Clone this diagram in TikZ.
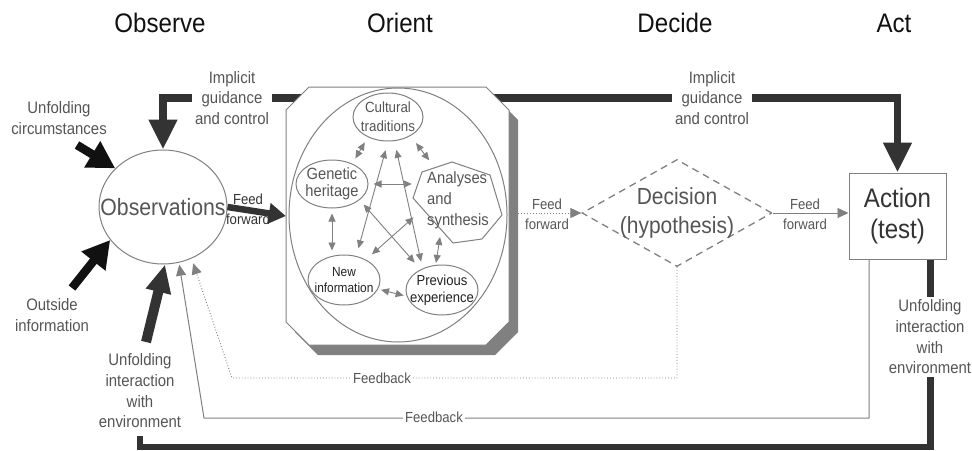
\documentclass[tikz,border=0pt]{standalone}
\usepackage{fontspec}
\setmainfont{Liberation Sans}[FakeStretch=0.9]
\usetikzlibrary{arrows.meta,shapes.geometric,calc}

\definecolor{outl}{HTML}{808080}
\definecolor{dark}{HTML}{333333}
\definecolor{ink}{HTML}{111111}
\definecolor{txt}{HTML}{555555}
\definecolor{txtd}{HTML}{222222}

\newcommand\fsz[2]{\fontsize{#1}{#2}\selectfont}
% octagonal outline of the orient box
\newcommand\orientoutline{(309,87) -- (486,87) -- (509,110) -- (509,322) -- (486,345)
  -- (309,345) -- (286,322) -- (286,110) -- cycle}

\begin{document}
\begin{tikzpicture}[x=1pt,y=-1pt,line join=miter,
  heading/.style={text=ink,font=\fsz{26.8}{30},inner sep=0pt},
  lbl/.style={text=txt,font=\fsz{16.6}{20.7},align=center,inner sep=1pt},
  lblw/.style={lbl,fill=white,inner sep=3pt},
  ffwd/.style={text=txt,font=\fsz{14.6}{20},align=center,inner sep=0pt},
  fback/.style={text=txt,font=\fsz{14.6}{18},fill=white,inner sep=2pt},
  oval/.style={ellipse,draw=outl,line width=1pt,inner sep=0pt},
  biarrow/.style={draw=outl,line width=0.9pt,
    {Triangle[length=8pt,width=7pt]}-{Triangle[length=8pt,width=7pt]}},
  bigline/.style={draw=dark,line width=7.5pt},
  botline/.style={draw=dark,line width=6.5pt},
  inarrow/.style={draw=ink,line width=8.5pt,-{Triangle[length=27pt,width=29pt]}},
  envarrow/.style={draw=dark,line width=10pt,-{Triangle[length=28pt,width=24pt]}},
]
\useasboundingbox (0,0) rectangle (972,450);

% column headings
\node[heading] at (160,23) {Observe};
\node[heading] at (400,23) {Orient};
\node[heading] at (675,23) {Decide};
\node[heading] at (894,23) {Act};

% main shapes
\node[ellipse,draw=outl,line width=1pt,minimum width=128pt,minimum height=114pt,inner sep=0pt,
      label={[text=txt,font=\fsz{23.6}{26}]center:Observations}] (obs) at (163,207) {};
\node[diamond,draw=outl,dashed,dash pattern=on 7pt off 5pt,line width=1.3pt,
      minimum width=190pt,minimum height=107pt,inner sep=0pt,
      label={[text=txt,font=\fsz{23.3}{29},align=center]center:Decision\\(hypothesis)}] (dec) at (677,213) {};
\node[rectangle,draw=outl,line width=1pt,minimum width=97pt,minimum height=86pt,inner sep=0pt,
      text=dark,font=\fsz{26.8}{31},align=center] (act) at (897.5,216) {Action\\(test)};

% implicit guidance and control (behind the orient box)
\draw[bigline,{Triangle[length=30pt,width=27pt]}-{Triangle[length=30pt,width=27pt]}]
  (obs.north) |- (act.north |- 0,98) -- (act.north);
\node[lblw] at (232,98) {Implicit\\guidance\\and control};
\node[lblw] at (712,98) {Implicit\\guidance\\and control};

% orient box with its shadow
\node[rectangle,minimum width=223pt,minimum height=258pt,inner sep=0pt] (orientbox) at (397.5,216) {};
\fill[outl,shift={(9,10)}] \orientoutline;
\filldraw[draw=outl,fill=white,line width=1pt] \orientoutline;
\node[oval,minimum width=218pt,minimum height=254pt] (inner) at (398,215) {};

\node[oval,minimum width=70pt,minimum height=48pt,
      label={[text=txt,font=\fsz{14.8}{19},align=center]center:Cultural\\traditions}] (cult) at (388,117) {};
\node[oval,minimum width=72pt,minimum height=48pt,
      label={[text=txt,font=\fsz{16.3}{17.5},align=center]center:Genetic\\heritage}] (gen) at (332,184) {};
% irregular seven-sided outline around "Analyses and synthesis"
\node[circle,minimum size=90pt,inner sep=0pt] (ana) at (458,205) {};
\draw[draw=outl,line width=1pt,shift={(ana.center)}]
  (-36,-33) -- (-6,-43) -- (32,-30) -- (44,10) -- (24,34) -- (-5,38) -- (-45,-7) -- cycle;
\node[text=txt,font=\fsz{16.4}{21},align=left,inner sep=0pt] (anatext) at (458,200) {Analyses\\and\\synthesis};
\node[oval,minimum width=72pt,minimum height=50pt,
      label={[text=txtd,font=\fsz{13.2}{16.5},align=center]center:New\\information}] (newi) at (344,280) {};
\node[oval,minimum width=72pt,minimum height=50pt,
      label={[text=txtd,font=\fsz{14.5}{17.5},align=center]center:Previous\\experience}] (prev) at (442,290) {};

% links inside the orient box
\draw[biarrow,shorten <=6pt,shorten >=6pt] (cult.225) -- (gen.45);
\draw[biarrow,shorten <=9pt,shorten >=8pt] (cult.-40) -- (ana.122);
\draw[biarrow,shorten <=5pt,shorten >=1pt] (gen.east) -- (gen.east -| ana.west);
\draw[biarrow,shorten <=5pt,shorten >=4pt] (gen.south) -- (gen.south |- newi.north);
\draw[biarrow,shorten <=3pt,shorten >=3pt] (newi.-15) -- (prev.190);
\draw[biarrow,shorten >=2pt] ([shift={(-18,32)}]ana.center) -- (prev.104);
\draw[biarrow,shorten <=9pt,shorten >=8pt] (cult.south) -- (newi.63);
\draw[biarrow,shorten <=9pt,shorten >=7pt] (cult.-75) -- (prev.132);
\draw[biarrow,shorten <=6pt,shorten >=9pt] (gen.-30) -- (prev.136);
\draw[biarrow,shorten <=1pt,shorten >=8pt] (ana.195) -- (newi.43);

% feed forward
\draw[draw=dark,line width=6.5pt,-{Triangle[length=17pt,width=20pt]}] (obs.east) -- (orientbox.west);
\node[ffwd,text=dark] at (248,209) {Feed\\forward};
\draw[draw=outl,line width=0.9pt,dotted,-{Triangle[length=11pt,width=10pt]}]
  ([xshift=9pt]orientbox.east |- dec.west) -- (dec.west);
\node[ffwd] at (547,214) {Feed\\forward};
\draw[draw=outl,line width=0.9pt,-{Triangle[length=11pt,width=10pt]}] (dec.east) -- (dec.east -| act.west);
\node[ffwd] at (805,214) {Feed\\forward};

% feedback
\draw[draw=outl,line width=0.9pt,dotted,-{Triangle[length=11pt,width=10pt]},shorten >=5pt]
  (dec.south) |- (232,378) -- (obs.-61);
\node[fback] at (382,378) {Feedback};
\draw[draw=outl,line width=1pt,-{Triangle[length=11pt,width=10pt]},shorten >=2pt]
  ([xshift=-28.5pt]act.south) |- (204,418) -- (obs.-74);
\node[fback] at (434,417) {Feedback};

% unfolding interaction with environment
\draw[botline] ([xshift=-16pt]act.south east) |- (140,447) -- (140,436);
\node[lblw] at (930,337) {Unfolding\\interaction\\with\\environment};
\node[lblw] at (140,391) {Unfolding\\interaction\\with\\environment};
\coordinate (envtail) at (146,342);
\draw[envarrow] (envtail) -- (obs.-88);

% outside inputs
\coordinate (circtail) at (77,145);
\coordinate (outtail) at (72,288);
\draw[inarrow] (circtail) -- (obs.141);
\draw[inarrow] (outtail) -- (obs.212);
\node[lbl] at (59,118) {Unfolding\\circumstances};
\node[lbl] at (52,315) {Outside\\information};
\end{tikzpicture}
\end{document}
